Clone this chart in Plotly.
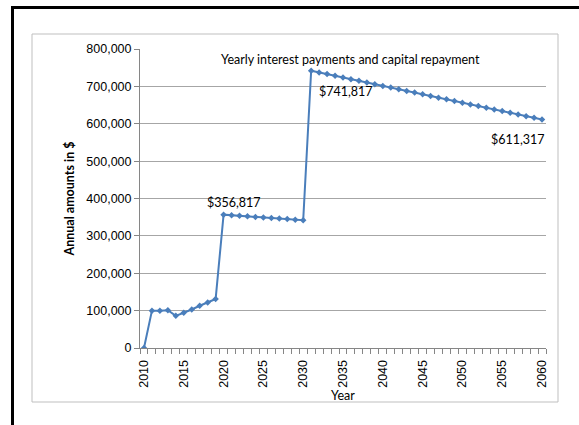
import plotly.graph_objects as go

years = list(range(2010, 2061))
amounts = [
    0, 100000, 100000, 101000, 86000, 94000, 103000, 113000, 122000, 131000,
    356817, 355317, 353817, 352317, 350817, 349317, 347817, 346317, 344817, 343317, 341817,
    741817, 737317, 732817, 728317, 723817, 719317, 714817, 710317, 705817, 701317,
    696817, 692317, 687817, 683317, 678817, 674317, 669817, 665317, 660817, 656317,
    651817, 647317, 642817, 638317, 633817, 629317, 624817, 620317, 615817, 611317,
]
x_tick_vals = list(range(2010, 2061, 5))
y_tick_vals = list(range(0, 800001, 100000))

W, H = 579, 425
L, R, T, B = 140, 33, 49, 77
pw, ph = W - L - R, H - T - B

def px(x):
    return (x - L) / pw

def py(y):
    return (H - B - y) / ph

line_color = "#4A7EBB"
grid_color = "#A6A6A6"
axis_color = "#868686"
calibri = "Lato"
arial = "Liberation Sans"

fig = go.Figure()
fig.add_trace(go.Scatter(
    x=years, y=amounts, mode="lines+markers",
    line=dict(color=line_color, width=2),
    marker=dict(symbol="diamond", size=5, color=line_color),
    showlegend=False, hoverinfo="x+y",
))

shapes = [
    dict(type="rect", xref="paper", yref="paper",
         x0=px(32), x1=px(558), y0=py(402), y1=py(34),
         line=dict(color="#BFBFBF", width=1), layer="below"),
    dict(type="rect", xref="paper", yref="paper",
         x0=px(12.5), x1=px(620), y0=py(460), y1=py(7.5),
         line=dict(color="black", width=3), layer="below"),
]

annotations = [
    dict(x=2035.9, y=770600, text="Yearly interest payments and capital repayment"),
    dict(x=2035.4, y=685000, text="$741,817"),
    dict(x=2057.0, y=559000, text="$611,317"),
    dict(x=2021.3, y=390600, text="$356,817"),
]
for a in annotations:
    a.update(xref="x", yref="y", showarrow=False,
             font=dict(family=calibri, size=12.5, color="black"))

fig.update_layout(
    width=W, height=H,
    margin=dict(l=L, r=R, t=T, b=B),
    paper_bgcolor="white", plot_bgcolor="white",
    shapes=shapes, annotations=annotations,
    xaxis=dict(
        range=[2009.5, 2060.5],
        tickvals=x_tick_vals, ticktext=[str(v) for v in x_tick_vals],
        tickangle=-90, ticks="outside", ticklen=6, tickcolor="rgba(0,0,0,0)",
        showgrid=False,
        tickfont=dict(family=arial, size=12.5, color="black"),
        showline=True, linecolor=axis_color, linewidth=1,
        minor=dict(tick0=2009.5, dtick=1, ticks="outside", ticklen=5,
                   tickcolor=axis_color, showgrid=False),
        title=dict(text="Year", font=dict(family=calibri, size=12.5, color="black"), standoff=2),
        zeroline=False,
    ),
    yaxis=dict(
        range=[0, 800000],
        tickvals=y_tick_vals, tickformat=",",
        ticks="outside", ticklen=5, tickcolor=axis_color,
        tickfont=dict(family=arial, size=12.5, color="black"),
        showgrid=True, gridcolor=grid_color, gridwidth=1,
        showline=True, linecolor=axis_color, linewidth=1,
        zeroline=False,
        title=dict(text="<b>Annual amounts in $</b>", font=dict(family=calibri, size=12.5, color="black"), standoff=8),
    ),
)

fig.write_html("out.html")
